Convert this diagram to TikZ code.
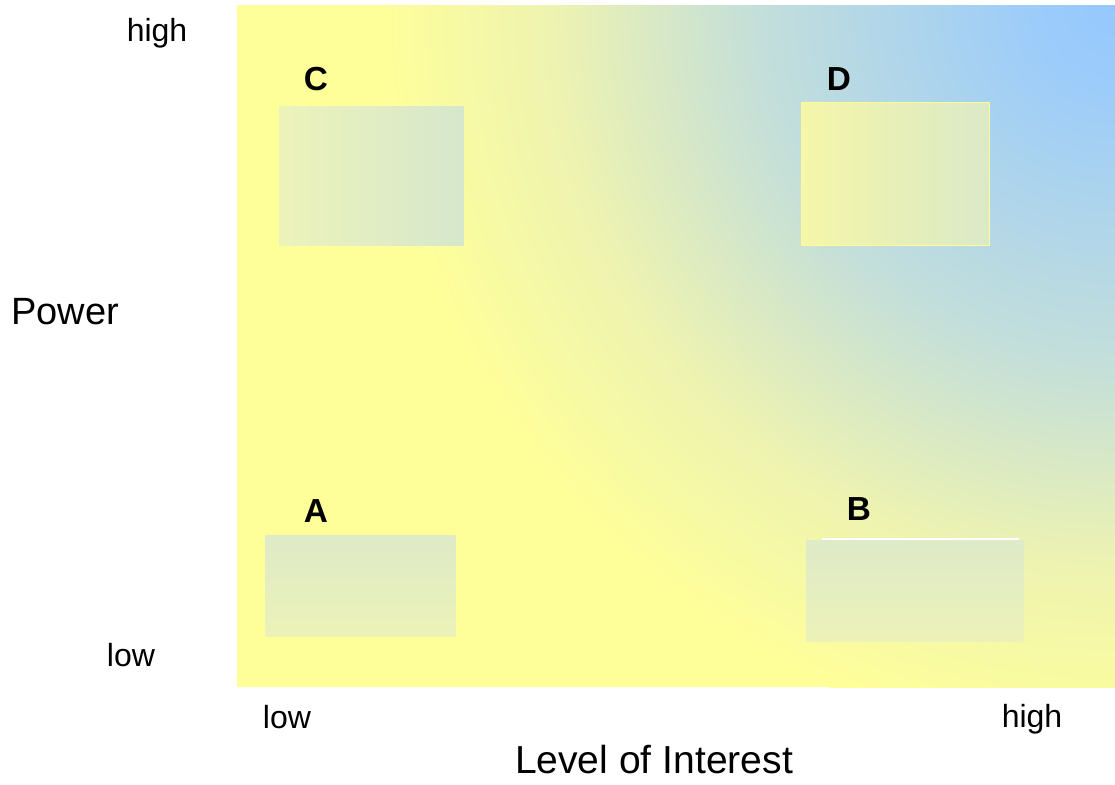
\documentclass[tikz,border=0pt]{standalone}
\usepackage{fontspec}
\setmainfont{Liberation Sans}
\usetikzlibrary{positioning}
\definecolor{qblue}{RGB}{150,200,255}
\definecolor{qblueb}{RGB}{156,204,250}
\definecolor{qmid}{RGB}{196,223,218}
\definecolor{qpale}{RGB}{238,243,176}
\definecolor{qyellow}{RGB}{255,255,153}
\definecolor{boxL}{RGB}{236,243,186}
\definecolor{boxR}{RGB}{214,231,204}
\definecolor{boxDL}{RGB}{245,246,168}
\definecolor{boxDR}{RGB}{218,233,200}
\definecolor{boxT}{RGB}{222,234,200}
\definecolor{boxB}{RGB}{236,242,183}
\definecolor{boxDedge}{RGB}{255,252,150}
\pgfdeclareradialshading{bgrad}{\pgfpoint{0bp}{0bp}}{color(0bp)=(qblue); color(2.8bp)=(qblueb); color(12.15bp)=(qmid); color(19.1bp)=(qpale); color(25bp)=(qyellow); color(50bp)=(qyellow)}
\tikzset{
  lab/.style={font=\fontsize{24pt}{28pt}\selectfont, inner sep=0pt},
  axis/.style={font=\fontsize{28.5pt}{33pt}\selectfont, inner sep=0pt},
  letter/.style={font=\fontsize{25pt}{29pt}\selectfont\bfseries, inner sep=0pt},
  quad/.style={draw=none, inner sep=0pt, anchor=north west}
}
\begin{document}
\begin{tikzpicture}[x=0.75pt,y=-0.75pt]
\useasboundingbox (0,0) rectangle (1115,785);
\fill[white] (0,0) rectangle (1115,785);
% background gradient
\begin{scope}
\clip (237,5) rectangle (1115,687);
\fill[qyellow] (237,5) rectangle (1115,687);
\shade[shading=bgrad] (1115,5) circle[radius=740];
\end{scope}
% boxes
\node[quad, left color=boxL, right color=boxR, minimum width=184*0.75pt, minimum height=139*0.75pt] (boxC) at (279,106) {};
\node[quad, left color=boxDL, right color=boxDR, draw=boxDedge, line width=0.75pt, minimum width=188*0.75pt, minimum height=143*0.75pt] (boxD) at (801,102) {};
\node[quad, top color=boxT, bottom color=boxB, minimum width=190*0.75pt, minimum height=101*0.75pt] (boxA) at (265,535) {};
\node[quad, top color=boxT, bottom color=boxB, minimum width=217*0.75pt, minimum height=101*0.75pt] (boxB) at (806,540) {};
\coordinate (bl1) at (822,539);
\coordinate (bl2) at (1019,539);
\draw[white, line width=1.2pt] (bl1) -- (bl2);
% letters
\node[letter] (labC) at (316,79) {C};
\node[letter] (labD) at (839,79) {D};
\node[letter] (labA) at (316,511) {A};
\node[letter] (labB) at (859,509) {B};
% axis labels
\node[lab] (yhigh) at (157,33) {high};
\node[lab] (ylow) at (131,655) {low};
\node[axis] (ypow) at (65,312) {Power};
\node[lab] (xlow) at (287,717) {low};
\node[lab] (xhigh) at (1032,719) {high};
\node[axis, font=\fontsize{29.3pt}{34pt}\selectfont] (xint) at (654,760) {Level of Interest};
\end{tikzpicture}
\end{document}
